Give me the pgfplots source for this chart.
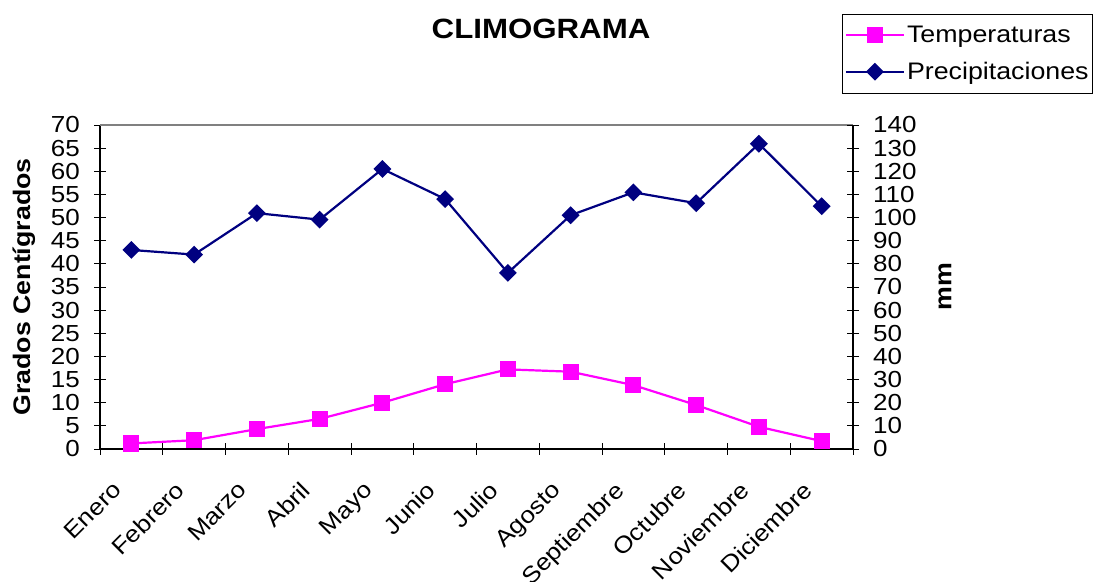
\documentclass[border=0pt]{standalone}
\usepackage{fontspec}
\setmainfont{Liberation Sans}[FakeStretch=1.12]
\usepackage{pgfplots}
\pgfplotsset{compat=1.18}
\definecolor{tmag}{RGB}{255,0,255}
\definecolor{pnavy}{RGB}{0,0,128}
\begin{document}
\begin{tikzpicture}[x=1bp,y=1bp]
\useasboundingbox (0,0) rectangle (1095,582);
\pgfplotsset{
 common/.style={
  at={(100bp,133bp)}, anchor=south west, scale only axis, width=753bp, height=324bp,
  xmin=-0.5, xmax=11.5, ymin=0,
  /pgf/number format/assume math mode=true,
  tick align=center, major tick length=12bp, minor tick length=12bp,
  tick style={black, line width=0.8bp},
  axis line style={black, line width=1.3bp},
  ticklabel style={font=\fontsize{23.3}{23.3}\selectfont},
  label style={font=\bfseries\fontsize{24}{24}\selectfont},
  clip=false,
 }}
\begin{axis}[common, ymax=70, ytick={0,5,...,70}, axis y line*=left, axis x line*=bottom,
 xtick={0,...,11},
 xticklabels={Enero,Febrero,Marzo,Abril,Mayo,Junio,Julio,Agosto,Septiembre,Octubre,Noviembre,Diciembre},
 minor xtick={-0.5,0.5,...,11.5},
 major x tick style={draw=none},
 xticklabel style={xshift=-20bp, yshift=-25bp, rotate=45, anchor=north east, inner sep=0pt},
 yticklabel style={inner sep=0pt, xshift=-14bp},
 ylabel={Grados Centígrados},
 ylabel style={at={(axis description cs:-0.1010,0.5)}, anchor=center},
 title={CLIMOGRAMA},
 title style={at={(axis description cs:0.5857,1.2776)}, anchor=center, font=\bfseries\fontsize{28}{28}\selectfont},
]
\draw[gray, line width=1.2bp] (rel axis cs:0,1) -- (rel axis cs:1,1);
\addplot[tmag, line width=2.2bp, mark=square*, mark size=7bp, mark options={solid}] coordinates {
(0,1.2) (1,1.9) (2,4.3) (3,6.5) (4,10.0) (5,14.0) (6,17.2) (7,16.7) (8,13.8) (9,9.5) (10,4.8) (11,1.7)};
\end{axis}
\begin{axis}[common, ymax=140, ytick={0,10,...,140}, axis y line*=right, axis x line=none,
 yticklabel style={inner sep=0pt, xshift=14bp},
 ylabel={mm},
 ylabel style={at={(axis description cs:1.1222,0.5)}, anchor=center},
 legend style={at={(axis description cs:1.3187,1.3426)}, anchor=north east, draw=black, line width=0.8bp,
   font=\fontsize{24}{24}\selectfont, inner xsep=2bp, inner ysep=10bp, row sep=14bp},
 legend cell align=left,
 legend image code/.code={\draw[mark repeat=2, mark phase=2] plot coordinates {(0bp,0bp) (29bp,0bp) (58bp,0bp)};},
]
\addlegendimage{tmag, line width=2.2bp, mark=square*, mark size=7bp, mark options={solid}}
\addlegendentry{Temperaturas}
\addplot[pnavy, line width=2.2bp, mark=square*, mark size=5.2bp, mark options={solid, rotate=45}] coordinates {
(0,86.0) (1,84.0) (2,101.9) (3,99.1) (4,121.0) (5,108.0) (6,76.1) (7,101.0) (8,110.9) (9,106.2) (10,131.9) (11,104.9)};
\addlegendentry{Precipitaciones}
\end{axis}
\end{tikzpicture}
\end{document}
